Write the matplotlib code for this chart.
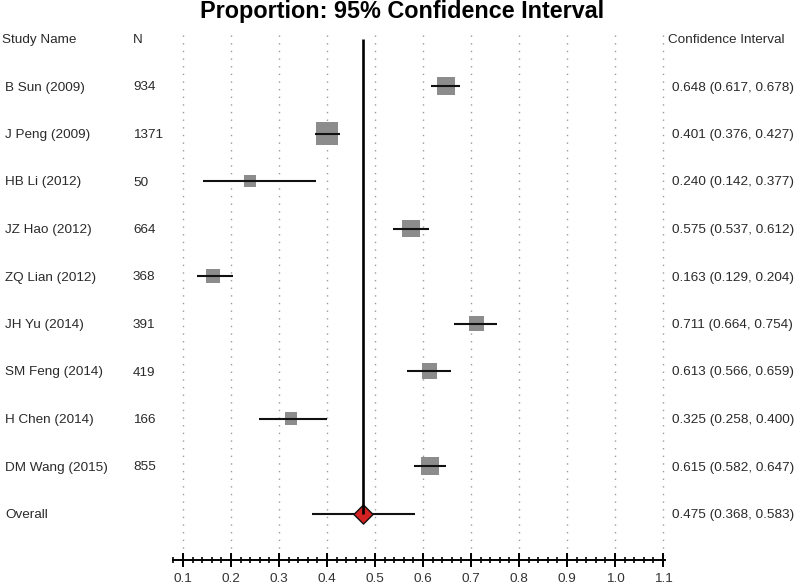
import matplotlib
matplotlib.use("Agg")
import matplotlib.pyplot as plt
import matplotlib.transforms as mtransforms
import numpy as np

plt.rcParams["font.family"] = ["Liberation Sans", "DejaVu Sans"]

## data
studies = ["B Sun (2009)", "J Peng (2009)", "HB Li (2012)", "JZ Hao (2012)",
           "ZQ Lian (2012)", "JH Yu (2014)", "SM Feng (2014)", "H Chen (2014)",
           "DM Wang (2015)"]
n_sizes = [934, 1371, 50, 664, 368, 391, 419, 166, 855]
prop = [0.648, 0.401, 0.240, 0.575, 0.163, 0.711, 0.613, 0.325, 0.615]
lower = [0.617, 0.376, 0.142, 0.537, 0.129, 0.664, 0.566, 0.258, 0.582]
upper = [0.678, 0.427, 0.377, 0.612, 0.204, 0.754, 0.659, 0.400, 0.647]
weights = [13.8, 20.6, 6.1, 12.3, 8.3, 8.9, 9.6, 6.6, 13.8]  # relative weight (%)

overall = 0.475
overall_lo = 0.368
overall_hi = 0.583

x_ticks = [0.1, 0.2, 0.3, 0.4, 0.5, 0.6, 0.7, 0.8, 0.9, 1.0, 1.1]

## figure
W, H = 800, 588
fig = plt.figure(figsize=(W / 100, H / 100), dpi=100)

row0_px = 38.5
row_step = 47.5
ax_top_px, ax_bot_px = 30, 560
x_left_px, x_right_px = 173.4, 665.4

ax = fig.add_axes([x_left_px / W, 1 - ax_bot_px / H,
                   (x_right_px - x_left_px) / W, (ax_bot_px - ax_top_px) / H])
ax.set_xlim(0.08, 1.105)
ax.set_ylim((ax_bot_px - row0_px) / row_step, (ax_top_px - row0_px) / row_step)

n_rows = len(studies)
rows = np.arange(1, n_rows + 1)
overall_row = n_rows + 1

## dotted gridlines
ax.vlines(x_ticks, -0.07, 10.9, colors="#9a9a9a", linewidth=1.0,
          linestyles=(0, (1, 4.5)), zorder=1)

## reference line at overall estimate
ax.vlines(overall, 0, overall_row, colors="black", linewidth=1.9, zorder=4)

## studies
ax.scatter(prop, rows, s=np.array(weights) * 12.2, marker="s",
           color="#8c8c8c", edgecolors="none", zorder=2)
ax.hlines(rows, lower, upper, colors="#111111", linewidth=1.5, zorder=3)

## overall
ax.hlines(overall_row, overall_lo, overall_hi, colors="#111111", linewidth=1.5, zorder=3)
ax.scatter([overall], [overall_row], s=95, marker="D", color="#d42121",
           edgecolors="#111111", linewidths=1.0, zorder=3.5)

## axis style
for side in ["top", "left", "right"]:
    ax.spines[side].set_visible(False)
ax.spines["bottom"].set_linewidth(1.4)
ax.set_yticks([])
ax.set_xticks(x_ticks)
ax.set_xticklabels(["%.1f" % t for t in x_ticks], fontsize=9.7, color="#333333")
ax.set_xticks(np.arange(0.08, 1.105, 0.02), minor=True)
ax.tick_params(axis="x", which="major", direction="inout", length=10, width=1.4, pad=4)
ax.tick_params(axis="x", which="minor", direction="inout", length=5, width=1.2)

## text columns
trans = mtransforms.blended_transform_factory(fig.transFigure, ax.transData)
txt = dict(fontsize=9.7, color="#2a2a2a", va="center_baseline", transform=trans)

ax.text(2 / W, 0, "Study Name", **txt)
ax.text(133 / W, 0, "N", **txt)
ax.text(668 / W, 0, "Confidence Interval", **txt)

for i in range(n_rows):
    ax.text(5 / W, rows[i], studies[i], **txt)
    ax.text(133 / W, rows[i], str(n_sizes[i]), **txt)
    ax.text(672 / W, rows[i], "%.3f (%.3f, %.3f)" % (prop[i], lower[i], upper[i]), **txt)

ax.text(5 / W, overall_row, "Overall", **txt)
ax.text(672 / W, overall_row, "%.3f (%.3f, %.3f)" % (overall, overall_lo, overall_hi), **txt)

## title
fig.text(402 / W, 1 - 18 / H, "Proportion: 95% Confidence Interval",
         fontsize=16.8, fontweight="bold", ha="center", va="baseline", color="black")

fig.savefig("out.png", dpi=100)
